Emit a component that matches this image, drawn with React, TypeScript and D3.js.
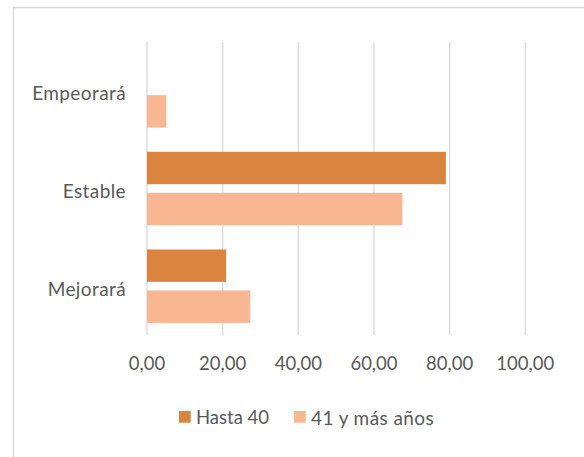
import React from "react";
import * as d3 from "d3";

const categories = ["Empeorará", "Estable", "Mejorará"];
const seriesNames = ["Hasta 40", "41 y más años"];
const hasta40 = [0, 79.0, 20.9];
const mas41 = [5.1, 67.5, 27.3];
const xTicks = [0, 20, 40, 60, 80, 100];
const colors = ["#DB843F", "#F8B692"];

const W = 584;
const H = 457;
const FONT = "Lato, 'Open Sans', sans-serif";
const TEXT = "#595959";

export default function App() {
  const x = d3.scaleLinear().domain([0, 100]).range([147, 525.3]);
  const y = d3.scaleBand<string>().domain(categories).range([42, 335]).paddingInner(0).paddingOuter(0);
  const band = y.bandwidth();
  const barH = 32.4;
  const gap = 8.6;
  const series = [hasta40, mas41];
  const fmt = (v: number) => v.toFixed(2).replace(".", ",");

  return (
    <svg width={W} height={H} style={{ position: "absolute", left: 0, top: 0 }}>
      <rect x={0} y={0} width={W} height={H} fill="#fff" />
      <rect x={13.5} y={7.5} width={W} height={H} fill="none" stroke="#D9D9D9" strokeWidth={1.5} />
      {xTicks.map((t) => (
        <line key={t} x1={x(t)} x2={x(t)} y1={42} y2={335} stroke="#D9D9D9" strokeWidth={1.3} />
      ))}
      {categories.map((c, ci) => {
        const center = (y(c) as number) + band / 2;
        const top = center - barH - gap / 2;
        return (
          <g key={c}>
            {series.map((s, si) =>
              s[ci] > 0 ? (
                <rect
                  key={si}
                  x={x(0)}
                  y={top + si * (barH + gap)}
                  width={x(s[ci]) - x(0)}
                  height={barH}
                  fill={colors[si]}
                />
              ) : null
            )}
            <text
              x={126}
              y={center + 2}
              textAnchor="end"
              dominantBaseline="central"
              fontFamily={FONT}
              fontSize={19}
              letterSpacing={0.4}
              fill={TEXT}
            >
              {c}
            </text>
          </g>
        );
      })}
      {xTicks.map((t) => (
        <text
          key={t}
          x={x(t)}
          y={363}
          textAnchor="middle"
          dominantBaseline="central"
          fontFamily={FONT}
          fontSize={18.5}
          fill={TEXT}
        >
          {fmt(t)}
        </text>
      ))}
      <g>
        <rect x={179} y={411} width={11.7} height={11.7} fill={colors[0]} />
        <text x={196} y={417} dominantBaseline="central" fontFamily={FONT} fontSize={18.5} fill={TEXT}>
          {seriesNames[0]}
        </text>
        <rect x={294} y={411} width={11.7} height={11.7} fill={colors[1]} />
        <text x={311} y={417} dominantBaseline="central" fontFamily={FONT} fontSize={19} letterSpacing={0.4} fill={TEXT}>
          {seriesNames[1]}
        </text>
      </g>
    </svg>
  );
}
